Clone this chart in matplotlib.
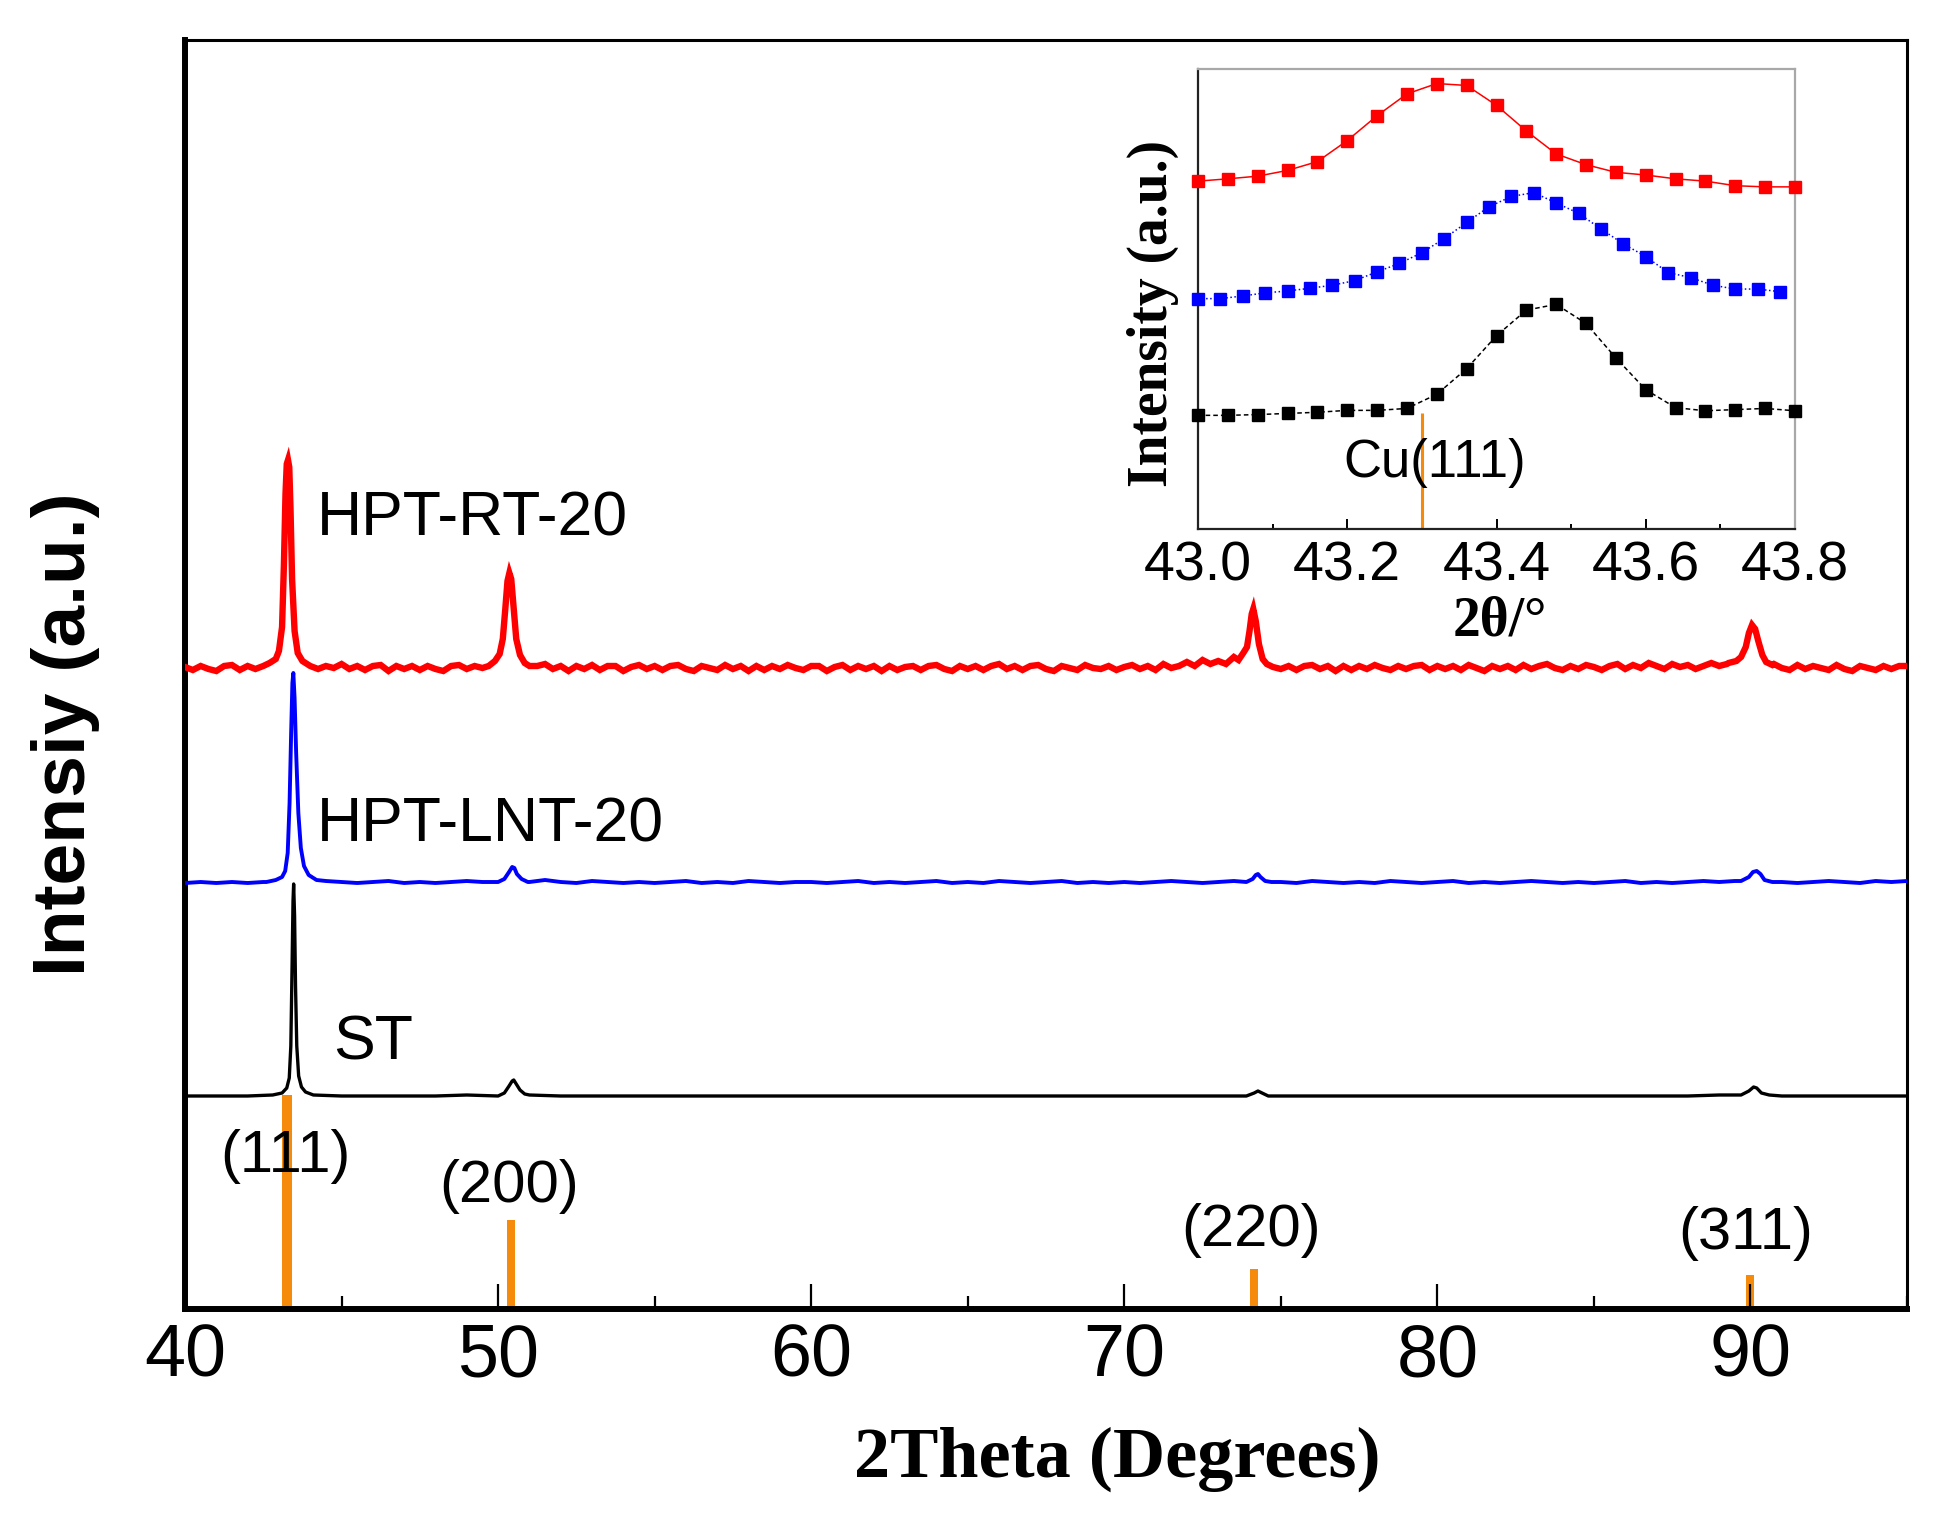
import numpy as np
import matplotlib
matplotlib.use("Agg")
import matplotlib.pyplot as plt
from matplotlib.ticker import MultipleLocator

# ---------------- data ----------------
# sampling grids (2theta, degrees)
rt_grid = np.arange(40.0, 95.001, 0.25)
lnt_grid = np.arange(40.0, 95.001, 0.5)
st_grid = np.arange(40.0, 95.001, 1.0)

# baseline intensities above each pattern's own offset (a.u.)
rt_base = [
    2, -1, 3, 0, -2, 3, 4, -1, 3, 0, 3, -2, 3, 5, 1, -1, 4, 0, 3, 1,
    5, 0, 3, -1, 3, 4, -2, 3, 0, 3, -1, 3, 0, -2, 3, 4, 0, 3, 1, 4,
    3, 0, 4, 1, -1, 3, 5, 0, 3, -2, 3, 0, 4, -1, 3, 3, -2, 2, 4, 0,
    3, -1, 3, 4, 0, -2, 3, 1, -1, 4, 0, 3, -2, 3, -1, 3, 0, 4, 1, -1,
    3, 3, -2, 2, 4, -1, 3, 0, 3, -2, 3, -1, 2, 3, -1, 3, 4, 0, -2, 3,
    0, 3, -1, 3, 5, 0, 3, -1, 3, 4, 0, -2, 3, 1, -1, 4, 1, 0, 3, -1,
    2, 4, 0, 3, -1, 5, 1, 3, 7, 3, 9, 5, 11, 7, 5, 3, 2, 3, 1, 4,
    0, 3, -1, 3, 4, 0, 3, -2, 3, -1, 3, 0, 4, 1, -1, 3, 0, 3, 4, -1,
    3, 0, 3, -1, 4, 1, -2, 3, 0, 3, -1, 4, 0, 3, 5, 1, -1, 3, 0, 4,
    2, -1, 3, 5, 0, 4, 1, 6, 3, 0, 5, 2, 4, 0, 3, 6, 3, 5, 7, 8,
    9, 6, 3, 5, 1, -1, 4, 0, 3, 1, -1, 4, 0, -2, 3, 1, -1, 3, 0, 3,
    3,
]
lnt_base = [
    0, 1, 0, 1, 0, 1, 2, 1, 3, 2,
    1, 0, 1, 2, 0, 1, 0, 1, 2, 1,
    1, 2, 1, 3, 1, 0, 2, 1, 0, 1,
    0, 1, 2, 0, 1, 0, 2, 1, 0, 1,
    1, 0, 1, 2, 0, 1, 0, 1, 2, 0,
    1, 0, 2, 1, 0, 1, 2, 0, 1, 0,
    1, 0, 1, 2, 1, 0, 1, 2, 3, 1,
    1, 0, 2, 1, 0, 1, 0, 2, 1, 0,
    1, 2, 0, 1, 0, 1, 2, 1, 0, 1,
    0, 1, 2, 0, 1, 0, 1, 2, 1, 2,
    3, 2, 1, 0, 1, 2, 1, 0, 2, 1,
    2,
]
st_base = [
    0, 0, 0, 0, 1, 0, 0, 0, 0, 1,
    1, 1, 0, 0, 0, 0, 0, 0, 0, 0,
    0, 0, 0, 0, 0, 0, 0, 0, 0, 0,
    0, 0, 0, 0, 1, 0, 0, 0, 0, 0,
    0, 0, 0, 0, 0, 0, 0, 0, 0, 1,
    1, 0, 0, 0, 0, 0,
]

# diffraction peaks: (111), (200), (220), (311)
rt_peaks_x = [
    [42.5, 42.7, 42.9, 43.0, 43.1, 43.16, 43.21, 43.25, 43.29, 43.33, 43.37, 43.42, 43.5, 43.6, 43.75, 43.9, 44.0],
    [49.7, 49.9, 50.05, 50.15, 50.23, 50.3, 50.36, 50.42, 50.5, 50.58, 50.7, 50.85, 51.0],
    [73.0, 73.25, 73.5, 73.65, 73.8, 73.92, 74.0, 74.07, 74.12, 74.2, 74.3, 74.42, 74.55, 74.75],
    [89.3, 89.55, 89.7, 89.85, 89.95, 90.05, 90.15, 90.25, 90.38, 90.5, 90.7],
]
rt_peaks_y = [
    [3, 6, 10, 18, 42, 105, 175, 205, 209, 202, 160, 90, 38, 16, 8, 5, 3],
    [3, 8, 15, 30, 60, 88, 96, 90, 60, 30, 14, 6, 3],
    [8, 5, 12, 9, 16, 22, 38, 55, 60, 48, 25, 10, 5, 2],
    [6, 8, 12, 22, 36, 44, 40, 28, 14, 7, 4],
]
lnt_peaks_x = [
    [42.6, 42.9, 43.1, 43.2, 43.28, 43.34, 43.39, 43.43, 43.46, 43.5, 43.55, 43.62, 43.7, 43.8, 43.95, 44.2],
    [50.0, 50.2, 50.35, 50.45, 50.52, 50.6, 50.75, 50.95],
    [73.9, 74.1, 74.2, 74.27, 74.35, 74.5, 74.7],
    [89.7, 89.95, 90.08, 90.2, 90.32, 90.45, 90.7],
]
lnt_peaks_y = [
    [1, 3, 6, 12, 30, 80, 150, 200, 210, 185, 130, 70, 35, 17, 8, 3],
    [1, 4, 11, 16, 15, 9, 4, 1],
    [1, 4, 8, 9, 6, 2, 1],
    [2, 6, 11, 12, 9, 3, 1],
]
st_peaks_x = [
    [42.8, 43.1, 43.25, 43.33, 43.38, 43.42, 43.45, 43.47, 43.5, 43.53, 43.57, 43.63, 43.72, 43.85, 44.1],
    [50.0, 50.2, 50.35, 50.45, 50.5, 50.58, 50.7, 50.85, 51.0],
    [73.9, 74.15, 74.27, 74.4, 74.6],
    [89.7, 89.95, 90.1, 90.2, 90.35, 90.6],
]
st_peaks_y = [
    [1, 3, 8, 18, 50, 130, 195, 212, 180, 110, 50, 20, 9, 4, 1],
    [0, 3, 10, 15, 16, 12, 6, 2, 1],
    [0, 3, 5, 3, 0],
    [1, 5, 9, 8, 3, 1],
]

# reference Cu lines
hkl_labels = ["(111)", "(200)", "(220)", "(311)"]
hkl_pos = [43.27, 50.41, 74.13, 89.98]
hkl_height = [214, 89, 40, 34]

sample_names = ["HPT-RT-20", "HPT-LNT-20", "ST"]

# inset (zoom on the (111) peak)
in_red_x = [43.00, 43.04, 43.08, 43.12, 43.16, 43.20, 43.24, 43.28, 43.32, 43.36, 43.40,
            43.44, 43.48, 43.52, 43.56, 43.60, 43.64, 43.68, 43.72, 43.76, 43.80]
in_red_y = [909, 915, 922, 937, 960, 1015, 1080, 1137, 1164, 1159, 1107,
            1040, 980, 952, 932, 925, 915, 909, 897, 894, 894]
in_blue_x = [43.00, 43.03, 43.06, 43.09, 43.12, 43.15, 43.18, 43.21, 43.24, 43.27, 43.30,
             43.33, 43.36, 43.39, 43.42, 43.45, 43.48, 43.51, 43.54, 43.57, 43.60,
             43.63, 43.66, 43.69, 43.72, 43.75, 43.78]
in_blue_y = [602, 602, 609, 617, 622, 629, 637, 649, 672, 694, 722,
             759, 801, 842, 869, 879, 852, 825, 784, 745, 712,
             670, 657, 637, 627, 627, 620]
in_black_x = in_red_x
in_black_y = [297, 297, 299, 302, 305, 310, 310, 315, 352, 419, 505,
              572, 587, 537, 447, 364, 317, 309, 312, 315, 309]
cu111_pos = 43.30
cu111_height = 302

# ---------------- helpers ----------------
def build(grid, base, seg_x, seg_y):
    gx = np.asarray(grid, float)
    gy = np.asarray(base, float)
    keep = np.ones(len(gx), bool)
    for sx in seg_x:
        keep &= ~((gx >= min(sx)) & (gx <= max(sx)))
    xs = list(gx[keep])
    ys = list(gy[keep])
    for sx, sy in zip(seg_x, seg_y):
        xs += list(sx)
        ys += list(sy)
    xs = np.array(xs, float)
    ys = np.array(ys, float)
    o = np.argsort(xs)
    return xs[o], ys[o]

plt.rcParams["font.family"] = ["Liberation Sans", "DejaVu Sans"]

W, H = 1935, 1515
fig = plt.figure(figsize=(W / 100, H / 100), dpi=100)

L, R, T, B = 185, 1907, 40, 1309
ax = fig.add_axes([L / W, 1 - B / H, (R - L) / W, (B - T) / H])
ax.set_xlim(40, 95)
ax.set_ylim(0, B - T)

off_rt, off_lnt, off_st = 640, 426, 213
orange = "#f58a0b"

# reference bars
ax.bar(hkl_pos, hkl_height, width=[0.32, 0.26, 0.26, 0.26], bottom=0,
       color=orange, edgecolor="none", zorder=1)

x, y = build(rt_grid, rt_base, rt_peaks_x, rt_peaks_y)
ax.plot(x, y + off_rt, color="#ff0000", lw=4.6, solid_joinstyle="miter", zorder=3)
x, y = build(lnt_grid, lnt_base, lnt_peaks_x, lnt_peaks_y)
ax.plot(x, y + off_lnt, color="#0000ff", lw=2.8, zorder=3)
x, y = build(st_grid, st_base, st_peaks_x, st_peaks_y)
ax.plot(x, y + off_st, color="black", lw=2.4, zorder=3)

lab_font = dict(fontsize=45, color="black")
ax.text(44.2, 773, sample_names[0], ha="left", va="baseline", **lab_font)
ax.text(44.2, 467, sample_names[1], ha="left", va="baseline", **lab_font)
ax.text(44.73, 249, sample_names[2], ha="left", va="baseline", **lab_font)

hkl_x = [43.2, 50.35, 74.05, 89.86]
hkl_y = [137, 107, 63, 60]
for t, hx, hy in zip(hkl_labels, hkl_x, hkl_y):
    ax.text(hx, hy, t, ha="center", va="baseline", fontsize=43, zorder=4)

ax.set_yticks([])
ax.xaxis.set_major_locator(MultipleLocator(10))
ax.xaxis.set_minor_locator(MultipleLocator(5))
ax.tick_params(axis="x", which="major", direction="in", length=18, width=1.6,
               labelsize=53, pad=10)
ax.tick_params(axis="x", which="minor", direction="in", length=9.5, width=1.6)
for s in ["left", "bottom"]:
    ax.spines[s].set_linewidth(4.3)
for s in ["top", "right"]:
    ax.spines[s].set_linewidth(2.2)

fig.text(1117 / W, 1 - 1477 / H, "2Theta (Degrees)", ha="center", va="baseline",
         fontsize=52, fontweight="bold", family="Liberation Serif")
fig.text(65 / W, 1 - 734 / H, "Intensiy (a.u.)", ha="center", va="center",
         rotation=90, fontsize=54, fontweight="bold")

# ---------------- inset ----------------
iL, iR, iT, iB = 1198, 1795, 69, 529
axi = fig.add_axes([iL / W, 1 - iB / H, (iR - iL) / W, (iB - iT) / H])
axi.set_xlim(43.0, 43.8)
axi.set_ylim(0, 1202)
axi.plot(in_red_x, in_red_y, color="#ff0000", lw=1.1, ls="-", marker="s",
         ms=8.5, mec="#ff0000", mfc="#ff0000", clip_on=False, zorder=3)
axi.plot(in_blue_x, in_blue_y, color="#0000ff", lw=1.1, ls=":", marker="s",
         ms=8.5, mec="#0000ff", mfc="#0000ff", clip_on=False, zorder=3)
axi.plot(in_black_x, in_black_y, color="black", lw=1.1, ls=(0, (3, 2)), marker="s",
         ms=8.5, mec="black", mfc="black", clip_on=False, zorder=3)
axi.vlines(cu111_pos, 0, cu111_height, color=orange, lw=2.2, zorder=2)
axi.text(43.317, 135, "Cu(111)", ha="center", va="baseline", fontsize=38, zorder=4)

axi.set_yticks([])
axi.xaxis.set_major_locator(MultipleLocator(0.2))
axi.xaxis.set_minor_locator(MultipleLocator(0.1))
axi.xaxis.set_major_formatter(matplotlib.ticker.FormatStrFormatter("%.1f"))
axi.tick_params(axis="x", which="major", direction="in", length=7, width=1.4,
                labelsize=40, pad=8)
axi.tick_params(axis="x", which="minor", direction="in", length=3.6, width=1.4)
for s in ["left", "bottom"]:
    axi.spines[s].set_linewidth(1.6)
    axi.spines[s].set_color("#222222")
for s in ["top", "right"]:
    axi.spines[s].set_linewidth(1.6)
    axi.spines[s].set_color("#a8a8a8")

fig.text(1500 / W, 1 - 635 / H, "2\u03b8/\u00b0", ha="center", va="baseline",
         fontsize=40, fontweight="bold", family="Liberation Serif")
fig.text(1153 / W, 1 - 313 / H, "Intensity (a.u.)", ha="center", va="center",
         rotation=90, fontsize=40, fontweight="bold", family="Liberation Serif")

fig.savefig("out.png", dpi=100)
